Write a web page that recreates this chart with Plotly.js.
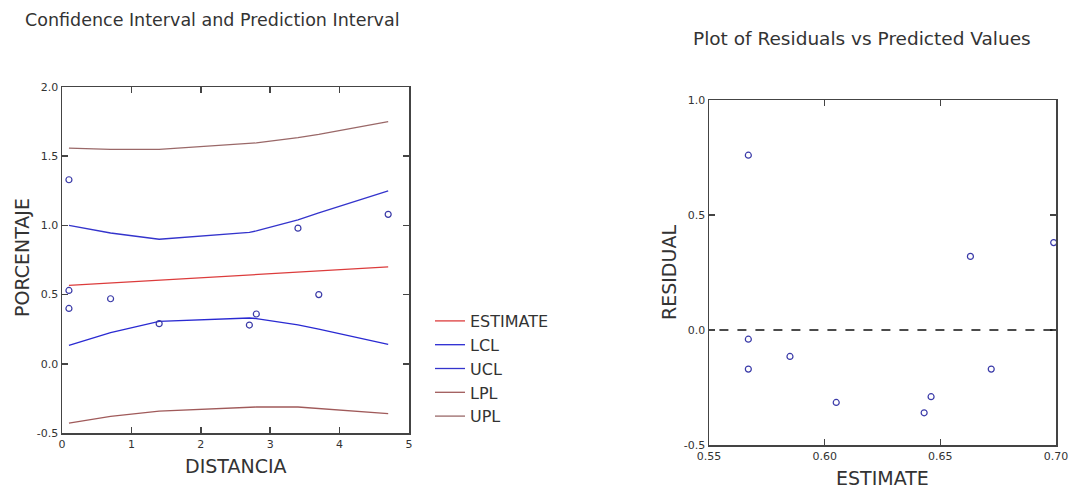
<!DOCTYPE html>
<html>
<head>
<meta charset="utf-8">
<script src="https://cdn.plot.ly/plotly-3.0.1.min.js"></script>
<style>html,body{margin:0;padding:0;background:#fff;}#chart{width:1070px;height:490px;}</style>
</head>
<body>
<div id="chart"></div>
<script>
// Observations
const distancia = [0.1, 0.1, 0.1, 0.7, 1.4, 2.7, 2.8, 3.4, 3.7, 4.7];
const porcentaje = [1.33, 0.53, 0.40, 0.47, 0.29, 0.28, 0.36, 0.98, 0.50, 1.08];

// Fitted curves at the distinct DISTANCIA values
const xFit = [0.1, 0.7, 1.4, 2.7, 2.8, 3.4, 3.7, 4.7];
const estimate = [0.567, 0.585, 0.605, 0.643, 0.646, 0.663, 0.672, 0.700];
const lcl = [0.133, 0.225, 0.307, 0.331, 0.327, 0.282, 0.250, 0.141];
const ucl = [1.000, 0.945, 0.900, 0.950, 0.960, 1.040, 1.090, 1.250];
const lpl = [-0.428, -0.380, -0.342, -0.312, -0.312, -0.312, -0.322, -0.360];
const upl = [1.558, 1.550, 1.550, 1.590, 1.596, 1.635, 1.658, 1.750];

// Residual plot
const estPred = [0.567, 0.567, 0.567, 0.585, 0.605, 0.643, 0.646, 0.663, 0.672, 0.699];
const residual = [0.76, -0.04, -0.17, -0.115, -0.315, -0.36, -0.29, 0.32, -0.17, 0.38];

const titleLeft = 'Confidence Interval and Prediction Interval';
const titleRight = 'Plot of Residuals vs Predicted Values';

const W = 1070, H = 490;
const font = 'DejaVu Sans, Arial, sans-serif';
const ptColor = '#3a3aa8';

const traces = [
  {x: xFit, y: estimate, type: 'scatter', mode: 'lines', name: 'ESTIMATE', line: {color: '#dc3c3c', width: 1.3}, xaxis: 'x', yaxis: 'y'},
  {x: xFit, y: lcl, type: 'scatter', mode: 'lines', name: 'LCL', line: {color: '#2a2ad2', width: 1.3}, xaxis: 'x', yaxis: 'y'},
  {x: xFit, y: ucl, type: 'scatter', mode: 'lines', name: 'UCL', line: {color: '#3434cc', width: 1.3}, xaxis: 'x', yaxis: 'y'},
  {x: xFit, y: lpl, type: 'scatter', mode: 'lines', name: 'LPL', line: {color: '#a05a5a', width: 1.3}, xaxis: 'x', yaxis: 'y'},
  {x: xFit, y: upl, type: 'scatter', mode: 'lines', name: 'UPL', line: {color: '#9a6868', width: 1.3}, xaxis: 'x', yaxis: 'y'},
  {x: distancia, y: porcentaje, type: 'scatter', mode: 'markers', showlegend: false, cliponaxis: false,
   marker: {symbol: 'circle-open', size: 6, color: ptColor, line: {width: 1.2, color: ptColor}}, xaxis: 'x', yaxis: 'y'},
  {x: estPred, y: residual, type: 'scatter', mode: 'markers', showlegend: false, cliponaxis: false,
   marker: {symbol: 'circle-open', size: 6, color: ptColor, line: {width: 1.2, color: ptColor}}, xaxis: 'x2', yaxis: 'y2'}
];

const axBase = {
  showgrid: false, zeroline: false, showline: true, linecolor: '#444', linewidth: 1.5,
  mirror: 'ticks', ticks: 'inside', ticklen: 6, tickwidth: 1.5, tickcolor: '#444',
  tickfont: {family: font, size: 11, color: '#333'}, fixedrange: true
};

const layout = {
  width: W, height: H,
  margin: {l: 0, r: 0, t: 0, b: 0, autoexpand: false},
  paper_bgcolor: '#fff', plot_bgcolor: '#fff',
  font: {family: font, color: '#333'},
  showlegend: true,
  legend: {x: 430 / W, y: 1 - 304 / H, xanchor: 'left', yanchor: 'top',
           font: {family: font, size: 16, color: '#333'}, bgcolor: 'rgba(0,0,0,0)', tracegroupgap: 0},
  xaxis: Object.assign({}, axBase, {domain: [62 / W, 409 / W], anchor: 'y', range: [0, 5], tickvals: [0, 1, 2, 3, 4, 5], ticktext: ['0', '1', '2', '3', '4', '5']}),
  yaxis: Object.assign({}, axBase, {domain: [1 - 433 / H, 1 - 87 / H], anchor: 'x', range: [-0.5, 2.0], tickvals: [-0.5, 0, 0.5, 1.0, 1.5, 2.0], ticktext: ['-0.5', '0.0', '0.5', '1.0', '1.5', '2.0']}),
  xaxis2: Object.assign({}, axBase, {domain: [709 / W, 1056 / W], anchor: 'y2', range: [0.55, 0.70], tickvals: [0.55, 0.60, 0.65, 0.70], ticktext: ['0.55', '0.60', '0.65', '0.70']}),
  yaxis2: Object.assign({}, axBase, {domain: [1 - 445 / H, 1 - 100 / H], anchor: 'x2', range: [-0.5, 1.0], tickvals: [-0.5, 0, 0.5, 1.0], ticktext: ['-0.5', '0.0', '0.5', '1.0']}),
  shapes: [
    {type: 'line', xref: 'x2 domain', yref: 'y2', x0: 0.03, x1: 1, y0: 0, y1: 0,
     line: {color: '#111', width: 1.5, dash: 'dash'}}
  ],
  annotations: [
    {text: titleLeft, xref: 'paper', yref: 'paper', x: 212 / W, y: 1 - 20 / H, xanchor: 'center', yanchor: 'middle', showarrow: false,
     font: {family: font, size: 17.5, color: '#333'}},
    {text: titleRight, xref: 'paper', yref: 'paper', x: 862 / W, y: 1 - 38 / H, xanchor: 'center', yanchor: 'middle', showarrow: false,
     font: {family: font, size: 18.5, color: '#333'}},
    {text: 'DISTANCIA', xref: 'paper', yref: 'paper', x: 236 / W, y: 1 - 466 / H, xanchor: 'center', yanchor: 'middle', showarrow: false,
     font: {family: font, size: 19, color: '#333'}},
    {text: 'PORCENTAJE', xref: 'paper', yref: 'paper', x: 22 / W, y: 1 - 258 / H, xanchor: 'center', yanchor: 'middle', showarrow: false, textangle: -90,
     font: {family: font, size: 19, color: '#333'}},
    {text: 'ESTIMATE', xref: 'paper', yref: 'paper', x: 882 / W, y: 1 - 478 / H, xanchor: 'center', yanchor: 'middle', showarrow: false,
     font: {family: font, size: 19, color: '#333'}},
    {text: 'RESIDUAL', xref: 'paper', yref: 'paper', x: 669 / W, y: 1 - 273 / H, xanchor: 'center', yanchor: 'middle', showarrow: false, textangle: -90,
     font: {family: font, size: 19, color: '#333'}}
  ]
};

Plotly.newPlot('chart', traces, layout, {displayModeBar: false, staticPlot: true});
</script>
</body>
</html>
